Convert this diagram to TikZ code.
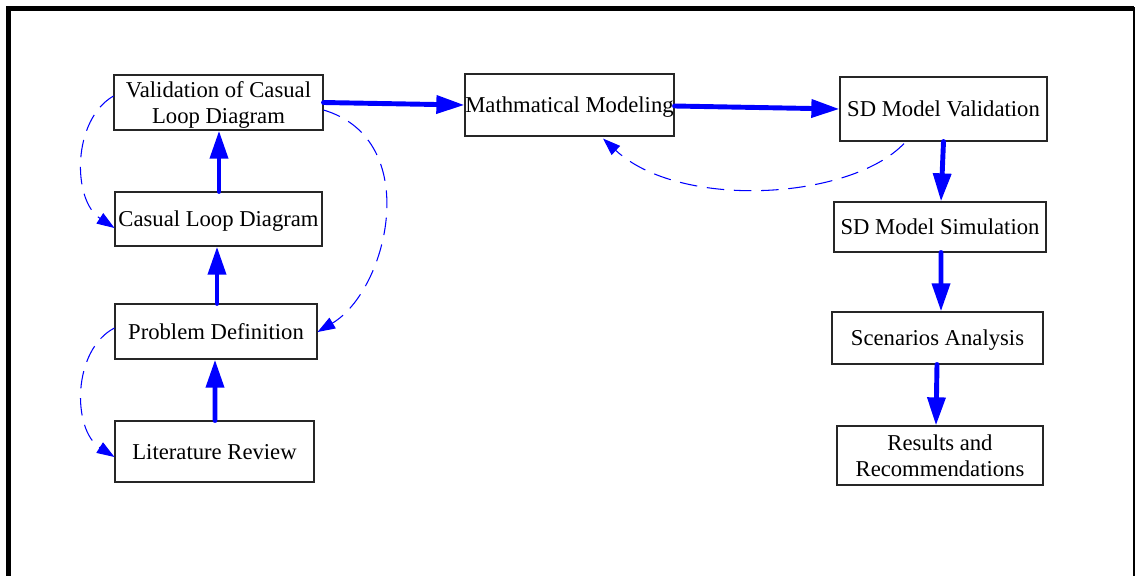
\documentclass[tikz,border=0pt]{standalone}
\usepackage{fontspec}
\setmainfont{Liberation Serif}
\usetikzlibrary{arrows.meta,calc}
\begin{document}
\begin{tikzpicture}[x=0.02cm,y=-0.02cm,
  box/.style 2 args={draw=black!85,line width=0.6pt,inner sep=0pt,align=center,
    minimum width=#1*0.02cm,minimum height=#2*0.02cm,text depth=0pt,
    font=\fontsize{12.9}{14.4}\selectfont},
  flow/.style={draw=blue,line width=2.8pt,line cap=round,
    -{Triangle[length=16pt,width=10pt]}},
  feedback/.style={draw=blue,line width=0.6pt,dash pattern=on 10pt off 5.5pt,
    -{Triangle[length=10pt,width=7pt]}}]
\useasboundingbox (0,0) rectangle (1136,575);
\fill[white] (0,0) rectangle (1136,575);
% frame
\draw[line width=2.9pt] (8.5,577) -- (8.5,8.5) -- (1134,8.5);
\draw[line width=1.2pt] (1134,7) -- (1134,577);
% nodes
\node[box={209}{55}] (val) at (218.5,102.5) {Validation of Casual\\Loop Diagram};
\node[box={207}{54}] (cld) at (218.5,219) {Casual Loop Diagram};
\node[box={202}{55}] (pd) at (216,331.5) {Problem Definition};
\node[box={199}{61}] (lr) at (214.5,451.5) {Literature Review};
\node[box={209}{62}] (mm) at (569.5,105) {Mathmatical Modeling};
\node[box={207}{64}] (sdv) at (943.5,109) {SD Model Validation};
\node[box={212}{50}] (sds) at (940,227) {SD Model Simulation};
\node[box={211}{52}] (sa) at (937.5,338) {Scenarios Analysis};
\node[box={206}{59}] (rr) at (940,455.5) {Results and\\Recommendations};
% main flow
\draw[flow] ($(lr.north)+(0.5,0)$) -- ($(pd.south)+(-1,0)$);
\draw[flow] ($(pd.north)+(1,0)$) -- ($(cld.south)+(-1.5,0)$);
\draw[flow] ($(cld.north)+(0.5,0)$) -- ($(val.south)+(0.5,0)$);
\draw[flow] (val.east) -- (mm.west);
\draw[flow] ($(mm.east)+(0,1)$) -- (sdv.west);
\draw[flow] (sdv.south) -- ($(sds.north)+(1,0)$);
\draw[flow] ($(sds.south)+(1,0)$) -- ($(sa.north)+(3.5,0)$);
\draw[flow] ($(sa.south)+(-0.5,0)$) -- ($(rr.north)+(-4,0)$);
% feedback loops
\draw[feedback] ($(val.west)+(0,-6.5)$) .. controls (72,120) and (72,200) .. ($(cld.west)+(0,9)$);
\draw[feedback] ($(val.east)+(0,7.5)$) .. controls (424,140) and (388,290) .. ($(pd.east)+(0,0.5)$);
\draw[feedback] ($(pd.west)+(0,-3.5)$) .. controls (72,350) and (72,430) .. ($(lr.west)+(0,5.5)$);
\draw[feedback] ($(sdv.south)+(-39.5,2)$) .. controls (850,200) and (680,210) .. ($(mm.south)+(33.5,2)$);
\end{tikzpicture}
\end{document}
